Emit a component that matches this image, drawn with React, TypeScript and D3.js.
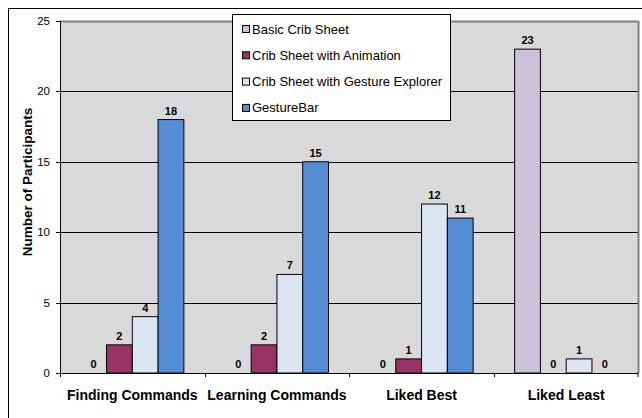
import React from "react";
import * as d3 from "d3";

const categories = ["Finding Commands", "Learning Commands", "Liked Best", "Liked Least"];
const seriesNames = ["Basic Crib Sheet", "Crib Sheet with Animation", "Crib Sheet with Gesture Explorer", "GestureBar"];
const basicCrib = [0, 0, 0, 23];
const withAnimation = [2, 2, 1, 0];
const withExplorer = [4, 7, 12, 1];
const gestureBar = [18, 15, 11, 0];
const yTicks = [0, 5, 10, 15, 20, 25];
const colors = ["#CCC0DA", "#993366", "#DCE6F2", "#558ED5"];

const series = [basicCrib, withAnimation, withExplorer, gestureBar];

export default function App() {
  const W = 642, H = 418;
  const left = 60, right = 638.5, top = 21, bottom = 373;
  const font = "'Liberation Sans', Arial, Helvetica, sans-serif";
  const x0 = d3.scaleBand<string>().domain(categories).range([left, right]).paddingInner(0.287).paddingOuter(0.1435);
  const x1 = d3.scaleBand<string>().domain(seriesNames).range([0, x0.bandwidth()]);
  const xCat = d3.scaleBand<string>().domain(categories).range([left, right]);
  const y = d3.scaleLinear().domain([0, 25]).range([bottom, top]);

  return (
    <svg width={W} height={H} style={{ position: "absolute", left: 0, top: 0, background: "#fff", fontFamily: font }}>
      <rect x={8.5} y={8.5} width={700} height={500} fill="#fff" stroke="#000" strokeWidth={1} />
      <rect x={left} y={top} width={right - left} height={bottom - top} fill="#D9D9D9" />
      {yTicks.filter(t => t > 0 && t < 25).map(t => (
        <line key={t} x1={left} x2={right} y1={Math.round(y(t)) + 0.5} y2={Math.round(y(t)) + 0.5} stroke="#000" strokeWidth={1} />
      ))}
      <line x1={left} x2={right} y1={top + 0.5} y2={top + 0.5} stroke="#808080" strokeWidth={2} />
      <line x1={right} x2={right} y1={top} y2={bottom} stroke="#808080" strokeWidth={2} />
      {series.map((vals, si) =>
        categories.map((c, ci) => {
          const v = vals[ci];
          const bx = (x0(c) as number) + (x1(seriesNames[si]) as number);
          const bw = x1.bandwidth();
          return (
            <g key={si + "-" + ci}>
              {v > 0 && (
                <rect x={bx} y={y(v)} width={bw} height={y(0) - y(v)} fill={colors[si]} stroke="#000" strokeWidth={1} />
              )}
              <text x={bx + bw / 2} y={y(v) - 5} textAnchor="middle" fontSize={11} fontWeight="bold" fill="#000">{v}</text>
            </g>
          );
        })
      )}
      <line x1={left + 0.5} x2={left + 0.5} y1={top} y2={bottom + 4} stroke="#000" strokeWidth={1} />
      <line x1={left} x2={right} y1={bottom + 0.5} y2={bottom + 0.5} stroke="#000" strokeWidth={1} />
      {yTicks.map(t => (
        <g key={t}>
          <line x1={left - 4} x2={left} y1={Math.round(y(t)) + 0.5} y2={Math.round(y(t)) + 0.5} stroke="#000" />
          <text x={left - 10} y={y(t) + 4} textAnchor="end" fontSize={11.5} fill="#000">{t}</text>
        </g>
      ))}
      {categories.map((c, i) => (
        <line key={"t" + i} x1={Math.round(xCat(c) as number) + 0.5} x2={Math.round(xCat(c) as number) + 0.5} y1={bottom} y2={bottom + 4} stroke="#000" />
      ))}
      <line x1={right - 0.5} x2={right - 0.5} y1={bottom} y2={bottom + 4} stroke="#000" />
      {categories.map(c => (
        <text key={c} x={(xCat(c) as number) + xCat.bandwidth() / 2} y={399.5} textAnchor="middle" fontSize={14} fontWeight="bold" fill="#000">{c}</text>
      ))}
      <text transform={`translate(32,${182}) rotate(-90)`} textAnchor="middle" fontSize={13.5} fontWeight="bold" fill="#000">Number of Participants</text>
      <rect x={232.5} y={14.5} width={218} height={106} fill="#fff" stroke="#000" strokeWidth={1} />
      {seriesNames.map((s, i) => (
        <g key={s}>
          <rect x={242.5} y={25.5 + i * 26.3} width={7} height={7} fill={colors[i]} stroke="#000" strokeWidth={1} />
          <text x={252} y={33.5 + i * 26.3} fontSize={13} fill="#000">{s}</text>
        </g>
      ))}
    </svg>
  );
}
